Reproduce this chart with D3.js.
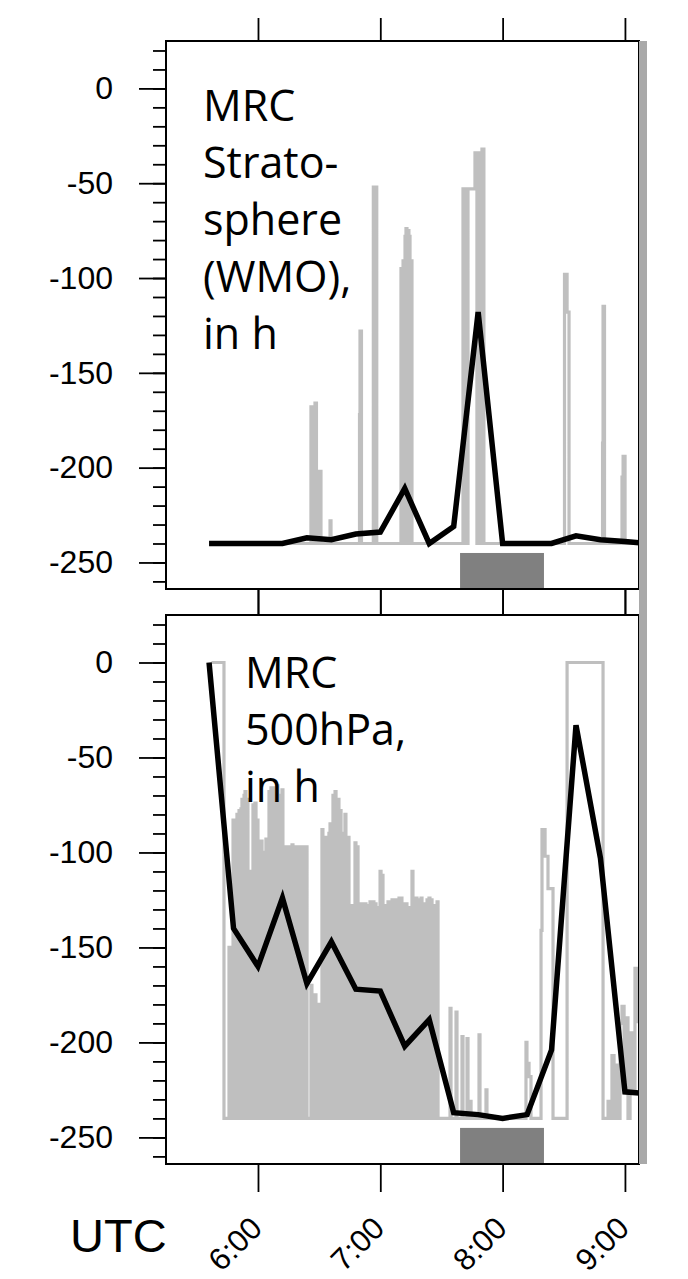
<!DOCTYPE html>
<html>
<head>
<meta charset="utf-8">
<script src="https://cdnjs.cloudflare.com/ajax/libs/d3/7.8.5/d3.min.js"></script>
<style>
body{margin:0;background:#fff;}
#canvas{width:688px;height:1279px;}
.axis line{stroke:#000;stroke-width:1.8px;}
.axis .domain{display:none;}
.axis text{font-family:"Liberation Sans",Arial,sans-serif;font-size:32px;fill:#000;}
.note{font-family:"Open Sans","Noto Sans",sans-serif;font-size:43px;fill:#000;}
</style>
</head>
<body>
<div id="canvas" class="canvas"></div>
<script>
// coarse (12 min) values, hours UTC
var coarseTimes = [5.6,5.8,6.0,6.2,6.4,6.6,6.8,7.0,7.2,7.4,7.6,7.8,8.0,8.2,8.4,8.6,8.8,9.0,9.2];
var stratoCoarse = [-240,-240,-240,-240,-237,-238,-235,-234,-211,-240,-231,-118,-240,-240,-240,-236,-238,-239,-240];
var hpaCoarse = [0,-140,-160,-124,-169,-147,-172,-173,-202,-188,-237,-238,-240,-238,-204,-33,-103,-226,-227];

// fine resolution series [hour, value]
var stratoFine = [[5.72,-240],[6.433,-168],[6.445,-240],[6.466,-166],[6.478,-240],[6.503,-202],[6.515,-240],
  [6.589,-228],[6.597,-240],[6.830,-172],[6.834,-128],[6.846,-240],[6.943,-52],[6.955,-240],[6.959,-52],[6.971,-240],
  [7.169,-95],[7.177,-240],[7.186,-91],[7.194,-240],[7.202,-78],[7.210,-74],[7.218,-240],[7.226,-75],[7.234,-78],
  [7.243,-240],[7.251,-91],[7.259,-240],[7.676,-53],[7.688,-240],[7.696,-53],[7.709,-240],[7.717,-53],[7.774,-34],
  [7.790,-240],[7.798,-34],[7.819,-240],[7.831,-32],[7.847,-240],[8.506,-98],[8.527,-118],[8.543,-240],
  [8.817,-187],[8.821,-115],[8.833,-240],[8.976,-205],[8.985,-194],[9.001,-240],[9.2,-240]];

var hpaFine = [[5.62,0],[5.722,-240],[5.763,-150],[5.779,-240],
  [5.796,-83],[5.804,-240],[5.812,-83],[5.820,-200],[5.828,-80],[5.837,-240],[5.845,-78],[5.853,-240],[5.861,-77],
  [5.869,-72],[5.877,-240],[5.886,-70],[5.894,-68],[5.902,-240],[5.910,-72],[5.918,-240],[5.926,-110],[5.935,-240],
  [5.943,-120],[5.951,-240],[5.959,-75],[5.967,-240],[5.975,-74],[5.984,-240],[5.992,-83],[6.000,-240],[6.008,-95],
  [6.016,-160],[6.025,-94],[6.033,-240],[6.041,-100],[6.049,-240],[6.057,-100],[6.065,-93],[6.073,-240],[6.090,-68],
  [6.098,-240],[6.106,-66],[6.114,-240],[6.122,-66],[6.131,-200],[6.139,-70],[6.147,-240],[6.155,-65],[6.163,-240],
  [6.172,-70],[6.180,-240],[6.188,-71],[6.196,-67],[6.204,-240],[6.221,-97],[6.229,-240],[6.237,-97],[6.253,-240],
  [6.262,-98],[6.270,-240],[6.278,-96],[6.286,-240],[6.310,-97],[6.319,-240],[6.327,-97],[6.335,-240],[6.343,-97],
  [6.352,-120],[6.360,-97],[6.368,-240],[6.376,-97],[6.384,-240],[6.392,-97],[6.401,-240],[6.433,-170],[6.441,-240],
  [6.466,-175],[6.474,-240],[6.499,-180],[6.507,-240],[6.523,-88],[6.531,-240],[6.540,-92],[6.548,-240],[6.556,-92],
  [6.572,-240],[6.580,-90],[6.589,-85],[6.597,-240],[6.605,-200],[6.613,-70],[6.622,-240],[6.630,-68],[6.638,-240],
  [6.654,-72],[6.662,-240],[6.670,-78],[6.679,-240],[6.695,-90],[6.703,-240],[6.711,-80],[6.719,-240],
  [6.736,-92],[6.744,-240],[6.752,-128],[6.760,-240],[6.769,-128],[6.777,-240],[6.785,-128],[6.793,-95],[6.801,-240],
  [6.809,-97],[6.818,-240],[6.826,-130],[6.834,-240],[6.842,-127],[6.850,-240],[6.859,-127],[6.867,-240],[6.875,-127],
  [6.883,-240],[6.891,-128],[6.899,-240],[6.908,-128],[6.916,-126],[6.924,-240],[6.932,-126],[6.948,-240],[6.957,-127],
  [6.965,-240],[6.973,-129],[6.981,-240],[6.998,-110],[7.006,-240],[7.014,-112],[7.022,-240],[7.030,-128],[7.038,-240],
  [7.046,-128],[7.055,-200],[7.063,-126],[7.071,-240],[7.079,-126],[7.087,-240],[7.096,-125],[7.112,-240],[7.120,-125],
  [7.128,-240],[7.137,-127],[7.145,-240],[7.153,-124],[7.161,-240],[7.169,-124],[7.177,-240],[7.194,-127],[7.202,-240],
  [7.210,-127],[7.218,-240],[7.226,-129],[7.234,-240],[7.243,-129],[7.251,-240],[7.259,-110],[7.267,-240],[7.275,-124],
  [7.284,-240],[7.292,-124],[7.300,-240],[7.308,-125],[7.324,-240],[7.333,-124],[7.341,-240],[7.349,-127],[7.357,-240],
  [7.365,-127],[7.374,-240],[7.382,-125],[7.390,-240],[7.398,-124],[7.406,-240],[7.414,-125],[7.423,-240],[7.431,-128],
  [7.439,-240],[7.447,-128],[7.455,-240],[7.464,-126],[7.472,-240],
  [7.570,-182],[7.578,-240],[7.619,-184],[7.627,-240],[7.668,-197],[7.676,-240],[7.709,-198],[7.717,-240],
  [7.733,-231],[7.742,-240],[7.807,-196],[7.815,-240],[7.864,-225],[7.872,-240],[8.191,-200],[8.199,-211],[8.216,-218],
  [8.232,-240],[8.314,-141],[8.322,-88],[8.347,-102],[8.371,-119],[8.412,-240],[8.527,0],[8.821,-240],[8.862,-231],
  [8.878,-240],[8.894,-207],[8.911,-240],[8.927,-212],[8.944,-240],[8.960,-190],[8.976,-181],[8.993,-220],[9.009,-187],
  [9.025,-240],[9.042,-195],[9.058,-225],[9.082,-161],[9.099,-189],[9.123,-220],[9.2,-220]];

// observation window (dark box), hours and level
var boxTimes = [7.652, 8.338];
var boxLevel = -245;

var xTicks = [6,7,8,9];
var xTickLabels = ['6:00','7:00','8:00','9:00'];
var yTicks = [0,-50,-100,-150,-200,-250];
var notes = [['MRC','Strato-','sphere','(WMO),','in h'],['MRC','500hPa,','in h']];

var W = 688, H = 1279;
var left = 166, right = 639;
var panels = [
  {top:41, bottom:589, coarse:stratoCoarse, fine:stratoFine, note:notes[0], noteX:203, noteY:121},
  {top:615, bottom:1164, coarse:hpaCoarse, fine:hpaFine, note:notes[1], noteX:245, noteY:688}
];

var svg = d3.select('.canvas').append('svg')
    .attr('width',W).attr('height',H);

var scaleX = d3.scaleLinear().domain([5.248,9.115]).range([left,right]);

panels.forEach(function(p,i){
    var scaleY = d3.scaleLinear().domain([-264,25]).range([p.bottom,p.top]);
    var g = svg.append('g');

    g.append('clipPath').attr('id','clip'+i)
        .append('rect').attr('x',left).attr('y',p.top)
        .attr('width',right-left).attr('height',p.bottom-p.top);

    // dark box
    g.append('rect')
        .attr('x',scaleX(boxTimes[0]))
        .attr('y',scaleY(boxLevel))
        .attr('width',scaleX(boxTimes[1])-scaleX(boxTimes[0]))
        .attr('height',p.bottom-scaleY(boxLevel))
        .style('fill','#808080');

    var plot = g.append('g').attr('clip-path','url(#clip'+i+')');

    var fineLine = d3.line()
        .x(function(d){return scaleX(d[0]);})
        .y(function(d){return scaleY(d[1]);})
        .curve(d3.curveStepAfter);
    plot.append('path')
        .datum(p.fine)
        .attr('d',fineLine)
        .style('fill','none')
        .style('stroke','#bfbfbf')
        .style('stroke-width',3.2);

    var coarseLine = d3.line()
        .x(function(d,j){return scaleX(coarseTimes[j]);})
        .y(function(d){return scaleY(d);});
    plot.append('path')
        .datum(p.coarse)
        .attr('d',coarseLine)
        .style('fill','none')
        .style('stroke','#000')
        .style('stroke-width',5.5)
        .style('stroke-linejoin','miter');

    // frame
    g.append('rect')
        .attr('x',left).attr('y',p.top)
        .attr('width',right-left).attr('height',p.bottom-p.top)
        .style('fill','none').style('stroke','#000').style('stroke-width',2);

    // y axis major + minor
    g.append('g').attr('class','axis')
        .attr('transform','translate('+left+',0)')
        .call(d3.axisLeft(scaleY).tickValues(yTicks).tickSize(27).tickPadding(26).tickSizeOuter(0)
            .tickFormat(function(d){return String(d);}));
    g.append('g').attr('class','axis')
        .attr('transform','translate('+left+',0)')
        .call(d3.axisLeft(scaleY).tickValues(d3.range(20,-261,-10)).tickSize(13).tickFormat('').tickSizeOuter(0));

    // x ticks top and bottom
    g.append('g').attr('class','axis')
        .attr('transform','translate(0,'+p.top+')')
        .call(d3.axisTop(scaleX).tickValues(xTicks).tickSize(i===0?23:26).tickFormat('').tickSizeOuter(0));
    g.append('g').attr('class','axis')
        .attr('transform','translate(0,'+p.bottom+')')
        .call(d3.axisBottom(scaleX).tickValues(xTicks).tickSize(i===0?26:28).tickFormat('').tickSizeOuter(0));

    // annotation
    g.append('text').attr('class','note')
        .selectAll('tspan')
        .data(p.note)
        .enter()
        .append('tspan')
        .attr('x',p.noteX)
        .attr('y',function(d,j){return p.noteY+j*57;})
        .text(function(d){return d;});
});

// grey bar on right
svg.append('rect')
    .attr('x',right).attr('y',41)
    .attr('width',8).attr('height',1164-41)
    .style('fill','#a9a9a9');

// x labels
svg.selectAll('.xlab')
    .data(xTicks)
    .enter()
    .append('text')
    .attr('class','xlab')
    .attr('text-anchor','end')
    .attr('transform',function(d){return 'translate('+(scaleX(d)+6)+',1230) rotate(-45)';})
    .style('font-family','"Liberation Sans",Arial,sans-serif')
    .style('font-size','31px')
    .text(function(d,i){return xTickLabels[i];});

svg.append('text')
    .attr('x',70).attr('y',1252)
    .style('font-family','"Liberation Sans",Arial,sans-serif')
    .style('font-size','47px')
    .text('UTC');
</script>
</body>
</html>
